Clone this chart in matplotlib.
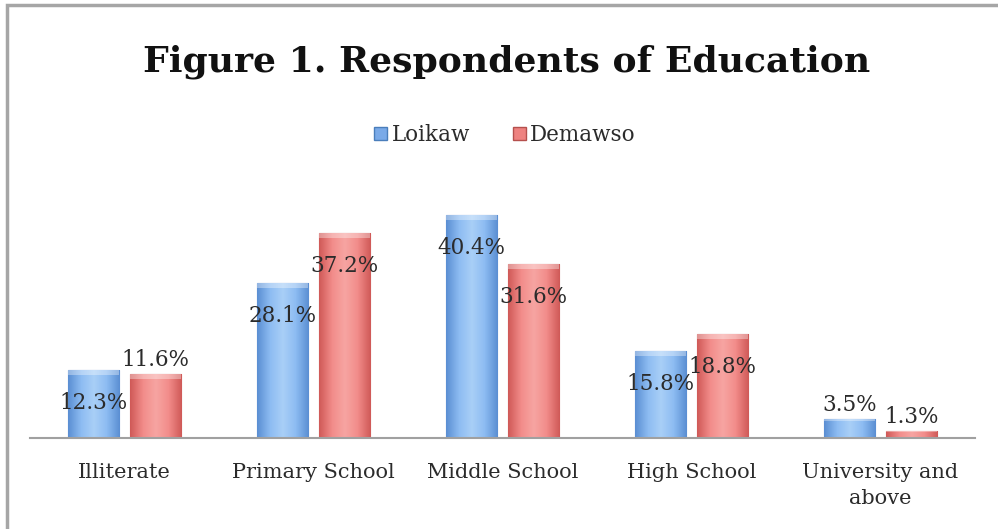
import numpy as np
import matplotlib
matplotlib.use("Agg")
from matplotlib import pyplot as plt
from matplotlib.patches import Rectangle, Patch
from matplotlib.colors import LinearSegmentedColormap

categories = ["Illiterate", "Primary School", "Middle School", "High School", "University and\nabove"]
loikaw = [12.3, 28.1, 40.4, 15.8, 3.5]
demawso = [11.6, 37.2, 31.6, 18.8, 1.3]
series_names = ["Loikaw", "Demawso"]

plt.rcParams["font.family"] = ["DejaVu Serif"]

fig = plt.figure(figsize=(9.98, 5.29), dpi=100)
ax = fig.add_axes([30 / 998, 91 / 529, 945 / 998, 248 / 529])

# chart border (cropped on the right/bottom in the reference)
fig.patches.append(Rectangle((7 / 998, -0.1), 1.2, (524 / 529) + 0.1,
                             transform=fig.transFigure, fill=False,
                             edgecolor="#a6a6a6", linewidth=2.5, zorder=0))

blue_cmap = LinearSegmentedColormap.from_list(
    "b", ["#5b8fd3", "#8dbcf2", "#a9cff7", "#8dbcf2", "#5b8fd3"])
red_cmap = LinearSegmentedColormap.from_list(
    "r", ["#d05a58", "#f28c8a", "#f7a5a2", "#f28c8a", "#d05a58"])

x = np.arange(len(categories))
w = 0.275
off = 0.164
bars_b = ax.bar(x - off, loikaw, w, color="#7aaae8", edgecolor="#4a7ebb", linewidth=0.8, zorder=2)
bars_r = ax.bar(x + off, demawso, w, color="#ee8280", edgecolor="#b5504d", linewidth=0.8, zorder=2)

grad = np.linspace(0, 1, 64).reshape(1, -1)
for bars, cmap in [(bars_b, blue_cmap), (bars_r, red_cmap)]:
    for b in bars:
        x0, y0 = b.get_x(), b.get_y()
        bw, bh = b.get_width(), b.get_height()
        im = ax.imshow(grad, cmap=cmap, aspect="auto",
                       extent=[x0, x0 + bw, y0, y0 + bh], zorder=2.5)
        im.set_clip_path(b)
        # light highlight near the top
        ax.add_patch(Rectangle((x0, y0 + bh - min(bh * 0.1, 0.9)), bw, min(bh * 0.1, 0.9),
                               facecolor="white", alpha=0.35, edgecolor="none", zorder=2.6))

for bars, vals in [(bars_b, loikaw), (bars_r, demawso)]:
    for b, v in zip(bars, vals):
        cx = b.get_x() + b.get_width() / 2
        if v >= 12:
            dy = -33
        else:
            dy = 14
        ax.annotate(f"{v}%", (cx, v), xytext=(0, dy), textcoords="offset pixels",
                    ha="center", va="center", fontsize=15.5, color="#2b2b2b", zorder=5)

ax.set_xlim(-0.5, len(categories) - 0.5)
ax.set_ylim(0, 45)
ax.set_xticks(x)
ax.set_xticklabels(categories, fontsize=15, color="#2b2b2b", linespacing=1.45)
ax.tick_params(axis="x", length=0, pad=18)
ax.set_yticks([])
for s in ["top", "right", "left"]:
    ax.spines[s].set_visible(False)
ax.spines["bottom"].set_color("#a0a0a0")
ax.spines["bottom"].set_linewidth(1.5)
ax.patch.set_visible(False)

fig.text(507 / 998, 1 - 62 / 529, "Figure 1. Respondents of Education",
         ha="center", va="center", fontsize=26, fontweight="bold", color="#111111")

handles = [Patch(facecolor="#7aaae8", edgecolor="#4a7ebb"),
           Patch(facecolor="#ee8280", edgecolor="#b5504d")]
fig.legend(handles, series_names, loc="center", bbox_to_anchor=(505 / 998, 1 - 135 / 529),
           ncol=2, frameon=False, fontsize=15.5, handlelength=0.6, handleheight=0.6,
           handletextpad=0.2, columnspacing=2.0, labelcolor="#2b2b2b")

fig.savefig("out.png", dpi=100)
